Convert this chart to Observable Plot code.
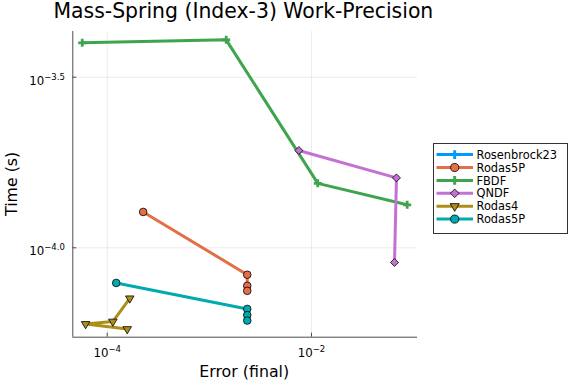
<!DOCTYPE html>
<html><head><meta charset="utf-8">
<script src="https://cdn.jsdelivr.net/npm/d3@7"></script>
<script src="https://cdn.jsdelivr.net/npm/@observablehq/plot@0.6"></script>
<style>body{margin:0;background:#fff} #c{position:relative;width:576px;height:384px}</style>
</head><body><div id="c"></div>
<script>
// ---- data ----
const seriesNames = ["Rosenbrock23","Rodas5P","FBDF","QNDF","Rodas4","Rodas5P"];
const seriesColors = ["#009AFA","#E36F47","#3EA44E","#C371D2","#AC8E18","#00AAAE"];
const rosenbrock23Err = [];
const rosenbrock23Time = [];
const rodas5PErr = [2.249e-4, 2.35e-3, 2.35e-3, 2.35e-3];
const rodas5PTime = [1.274e-4, 8.34e-5, 7.74e-5, 7.48e-5];
const fbdfErr = [5.69e-5, 1.462e-3, 1.153e-2, 8.65e-2];
const fbdfTime = [3.99e-4, 4.07e-4, 1.545e-4, 1.337e-4];
const qndfErr = [7.52e-3, 6.79e-2, 6.50e-2];
const qndfTime = [1.928e-4, 1.603e-4, 9.06e-5];
const rodas4Err = [1.570e-4, 6.14e-5, 1.135e-4, 1.663e-4];
const rodas4Time = [5.78e-5, 5.98e-5, 6.08e-5, 7.11e-5];
const rodas5P2Err = [1.225e-4, 2.35e-3, 2.35e-3, 2.35e-3];
const rodas5P2Time = [7.89e-5, 6.62e-5, 6.35e-5, 6.12e-5];
const xTicks = [1e-4, 1e-2];
const xTickLabels = ["−4", "−2"];
const yTicks = [1e-4, Math.pow(10, -3.5)];
const yTickLabels = ["−4.0", "−3.5"];

// ---- symbols ----
const symR = s => Math.sqrt(s / Math.PI);
const symCircle = {draw(c, s) { const r = symR(s); c.moveTo(r, 0); c.arc(0, 0, r, 0, 2 * Math.PI); }};
const symDiamond = {draw(c, s) { const a = symR(s) * 1.05; c.moveTo(0, -a); c.lineTo(a, 0); c.lineTo(0, a); c.lineTo(-a, 0); c.closePath(); }};
const symDTri = {draw(c, s) { const r = symR(s); const w = 1.12 * r, h = 1.9 * r; c.moveTo(-w, -h / 3); c.lineTo(w, -h / 3); c.lineTo(0, 2 * h / 3); c.closePath(); }};
const symPlus = {draw(c, s) { const r = symR(s); const a = r * 1.05, b = r * 0.36;
  c.moveTo(-a, -b); c.lineTo(-b, -b); c.lineTo(-b, -a); c.lineTo(b, -a); c.lineTo(b, -b); c.lineTo(a, -b);
  c.lineTo(a, b); c.lineTo(b, b); c.lineTo(b, a); c.lineTo(-b, a); c.lineTo(-b, b); c.lineTo(-a, b); c.closePath(); }};
const seriesSymbols = [symPlus, symCircle, symPlus, symDiamond, symDTri, symCircle];
const outlined = [false, true, false, true, true, true];

const series = [
  [rosenbrock23Err, rosenbrock23Time], [rodas5PErr, rodas5PTime], [fbdfErr, fbdfTime],
  [qndfErr, qndfTime], [rodas4Err, rodas4Time], [rodas5P2Err, rodas5P2Time]
].map(([err, time], i) => ({name: seriesNames[i], err, time, color: seriesColors[i], symbol: seriesSymbols[i], outline: outlined[i]}));

// ---- layout ----
const W = 576, H = 384, mL = 72.3, mR = 159, mT = 31, mB = 47.3;
const innerW = W - mL - mR, innerH = H - mT - mB;
const xDomain = [Math.pow(10, -4.337), Math.pow(10, -0.962)];
const yDomain = [Math.pow(10, -4.262), Math.pow(10, -3.366)];
const R = 3.8;
const axisColor = "#4d4d4d";

const marks = [
  Plot.gridX({ticks: xTicks, stroke: "#000", strokeOpacity: 0.08, strokeWidth: 1}),
  Plot.gridY({ticks: yTicks, stroke: "#000", strokeOpacity: 0.08, strokeWidth: 1}),
  Plot.ruleX([xDomain[0]], {stroke: axisColor, strokeWidth: 1}),
  Plot.ruleY([yDomain[0]], {stroke: axisColor, strokeWidth: 1}),
  Plot.tickX(xTicks, {x: d => d, stroke: axisColor, insetTop: innerH - 4}),
  Plot.tickY(yTicks, {y: d => d, stroke: axisColor, insetRight: innerW - 4}),
  Plot.axisX({ticks: xTicks, tickSize: 0, tickPadding: 11, label: null,
    tickFormat: d => "10^" + xTickLabels[xTicks.indexOf(d)]}),
  Plot.axisY({ticks: yTicks, tickSize: 0, tickPadding: 8, dy: 3.8, label: null,
    tickFormat: d => "10^" + yTickLabels[yTicks.findIndex(t => Math.abs(t - d) / t < 1e-9)]})
];
for (const s of series) {
  const idx = d3.range(s.err.length);
  marks.push(Plot.line(idx, {x: i => s.err[i], y: i => s.time[i], stroke: s.color, strokeWidth: 3}));
  marks.push(Plot.dot(idx, {x: i => s.err[i], y: i => s.time[i], symbol: s.symbol, r: R, fill: s.color,
    stroke: s.outline ? "#000" : "none", strokeWidth: 0.8}));
}

const chart = Plot.plot({
  width: W, height: H, marginLeft: mL, marginRight: mR, marginTop: mT, marginBottom: mB,
  x: {type: "log", domain: xDomain},
  y: {type: "log", domain: yDomain},
  style: {fontFamily: "DejaVu Sans", fontSize: "11.8px", color: "#000", background: "#fff", overflow: "visible"},
  marks
});
document.getElementById("c").appendChild(chart);

const svg = d3.select(chart);
// superscript exponents in tick labels
svg.selectAll('g[aria-label$="tick label"] text').each(function () {
  const t = this.textContent;
  if (t.includes("^")) {
    const [b, e] = t.split("^");
    const sel = d3.select(this);
    sel.text(b);
    sel.append("tspan").attr("dy", "-5").attr("font-size", "8.5px").text(e);
  }
});
// title and axis labels
svg.append("text").attr("x", 243.4).attr("y", 17.5).attr("text-anchor", "middle")
  .attr("font-size", "20.4px").attr("fill", "#000").text("Mass-Spring (Index-3) Work-Precision");
svg.append("text").attr("x", 244.2).attr("y", 377.3).attr("text-anchor", "middle")
  .attr("font-size", "15.8px").attr("fill", "#000").text("Error (final)");
svg.append("text").attr("transform", "translate(17.3,183.9) rotate(-90)").attr("text-anchor", "middle")
  .attr("font-size", "15.8px").attr("fill", "#000").text("Time (s)");
// legend
const lg = svg.append("g").attr("text-anchor", "start");
lg.append("rect").attr("x", 433.5).attr("y", 143.5).attr("width", 134).attr("height", 90)
  .attr("fill", "#fff").attr("stroke", "#333").attr("stroke-width", 1);
series.forEach((s, i) => {
  const y = 154.6 + i * 12.9;
  lg.append("line").attr("x1", 436.5).attr("x2", 473).attr("y1", y).attr("y2", y)
    .attr("stroke", s.color).attr("stroke-width", 3);
  lg.append("path").attr("d", d3.symbol(s.symbol, Math.PI * R * R * 1.15)())
    .attr("transform", `translate(454.7,${y})`).attr("fill", s.color)
    .attr("stroke", s.outline ? "#000" : "none").attr("stroke-width", 0.8);
  lg.append("text").attr("x", 476.5).attr("y", y).attr("dy", "0.36em").attr("font-size", "11.4px")
    .attr("text-anchor", "start").attr("fill", "#000").text(s.name);
});
</script></body></html>
